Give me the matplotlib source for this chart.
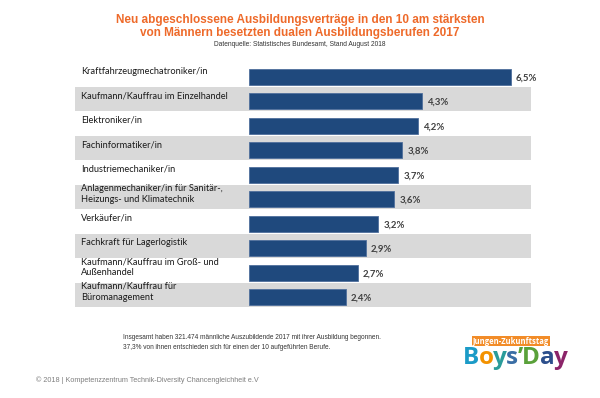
import matplotlib
matplotlib.use('Agg')
import matplotlib.pyplot as plt

# ── Data ───────────────────────────────────────────────────────────────────────
BERUFE = [
    'Kraftfahrzeugmechatroniker/in',
    'Kaufmann/Kauffrau im Einzelhandel',
    'Elektroniker/in',
    'Fachinformatiker/in',
    'Industriemechaniker/in',
    'Anlagenmechaniker/in für Sanitär-,\nHeizungs- und Klimatechnik',
    'Verkäufer/in',
    'Fachkraft für Lagerlogistik',
    'Kaufmann/Kauffrau im Groß- und\nAußenhandel',
    'Kaufmann/Kauffrau für\nBüromanagement',
]
ANTEIL = [6.5, 4.3, 4.2, 3.8, 3.7, 3.6, 3.2, 2.9, 2.7, 2.4]
VALUE_LABELS = ['6,5%', '4,3%', '4,2%', '3,8%', '3,7%', '3,6%', '3,2%', '2,9%', '2,7%', '2,4%']

TITLE = ('Neu abgeschlossene Ausbildungsverträge in den 10 am stärksten\n'
         'von Männern besetzten dualen Ausbildungsberufen 2017')
SOURCE = 'Datenquelle: Statistisches Bundesamt, Stand August 2018'
NOTE = ('Insgesamt haben 321.474 männliche Auszubildende 2017 mit ihrer Ausbildung begonnen.\n'
        '37,3% von ihnen entschieden sich für einen der 10 aufgeführten Berufe.')
COPYRIGHT = '© 2018 | Kompetenzzentrum Technik-Diversity Chancengleichheit e.V'

# ── Style ──────────────────────────────────────────────────────────────────────
BAR_COLOR = '#1f497d'
BAND_COLOR = '#d9d9d9'
ORANGE = '#ee6a2a'
LABEL_FONT = 'Lato'
ARIAL = 'Liberation Sans'

W, H = 600, 398
fig = plt.figure(figsize=(W / 100, H / 100), dpi=100)
fig.patch.set_facecolor('white')

# axes placed in pixel terms: left 75, right 531, top 62.5, bottom 307.5
ax = fig.add_axes([75 / W, 1 - 307.5 / H, (531 - 75) / W, (307.5 - 62.5) / H])
ax.set_xlim(-4.32, 7.0)
ax.set_ylim(len(BERUFE), 0)
ax.axis('off')

for i, (name, val, lab) in enumerate(zip(BERUFE, ANTEIL, VALUE_LABELS)):
    if i % 2 == 1:
        ax.axhspan(i + 0.02, i + 0.96, color=BAND_COLOR, lw=0, zorder=0)
    ax.barh(i + 0.59, val, height=0.65, left=0, color=BAR_COLOR,
            edgecolor='#4f6f9c', linewidth=0.6, zorder=2)
    ax.text(-4.17, i + 0.36, name, ha='left', va='center', fontsize=6.7,
            family=LABEL_FONT, color='#1a1a1a', linespacing=1.3, zorder=3)
    ax.text(val + 0.13, i + 0.62, lab, ha='left', va='center', fontsize=6.9,
            family=LABEL_FONT, fontweight='bold', color='#404040', zorder=3)

# ── Titles and notes ──────────────────────────────────────────────────────────
fig.text(0.5, 1 - 14 / H, TITLE, ha='center', va='top', fontsize=8.5,
         fontweight='bold', color=ORANGE, family=ARIAL, linespacing=1.1)
fig.text(0.5, 1 - 44 / H, SOURCE, ha='center', va='center', fontsize=4.8,
         color='#333333', family=ARIAL)
fig.text(123 / W, 1 - 334 / H, NOTE, ha='left', va='top', fontsize=4.7,
         color='#333333', family=ARIAL, linespacing=1.55)
fig.text(36 / W, 1 - 380 / H, COPYRIGHT, ha='left', va='center', fontsize=5.2,
         color='#7f7f7f', family=ARIAL)

# ── Boys'Day logo ─────────────────────────────────────────────────────────────
fig.text(511 / W, 1 - 341 / H, 'Jungen-Zukunftstag', ha='center', va='center',
         fontsize=5.5, color='white', family='Open Sans', fontweight='bold',
         bbox=dict(boxstyle='square,pad=0.12', fc='#f28c28', ec='none'))
letters = ['B', 'o', 'y', 's', '’', 'D', 'a', 'y']
colors = ['#1b9bc7', '#f39200', '#2a9c9a', '#3a6ea5', '#5aa13a', '#5aa13a', '#2c4f8c', '#8b2469']
renderer = fig.canvas.get_renderer()
x = 463 / W
for ch, c in zip(letters, colors):
    t = fig.text(x, 1 - 358 / H, ch, ha='left', va='center', fontsize=17.5,
                 fontweight='bold', color=c, family='Open Sans')
    bb = t.get_window_extent(renderer)
    x += bb.width / W - 0.001

fig.savefig('out.png', dpi=100, facecolor='white')
